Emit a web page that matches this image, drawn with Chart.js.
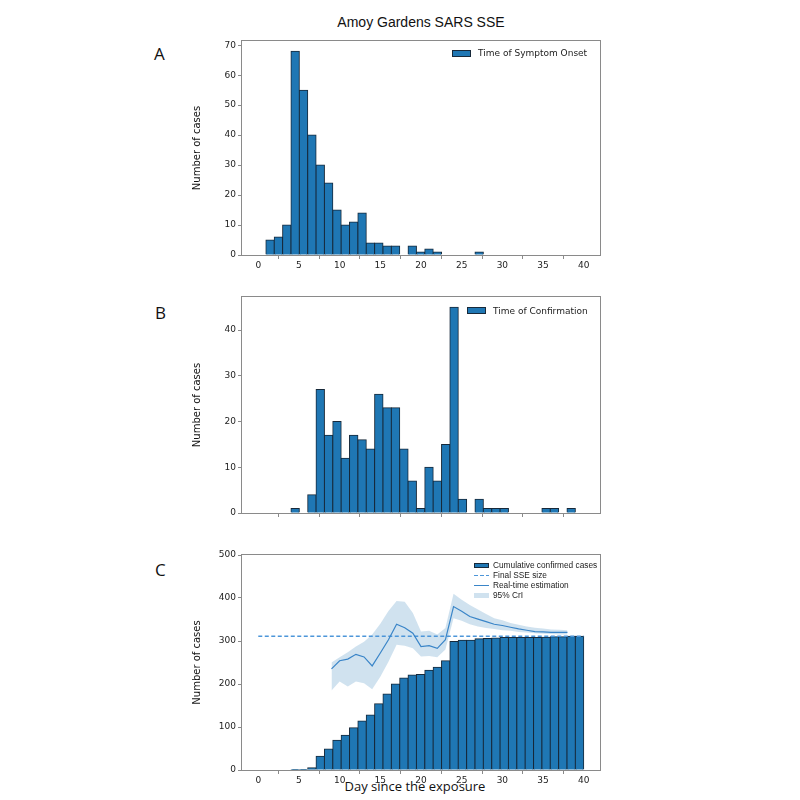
<!DOCTYPE html>
<html><head><meta charset="utf-8">
<script src="https://cdn.jsdelivr.net/npm/chart.js@4/dist/chart.umd.min.js"></script>
<style>
body{margin:0;width:800px;height:800px;background:#fff;position:relative;overflow:hidden;}
canvas{position:absolute;}
.t{position:absolute;white-space:nowrap;color:#111;}
.m{position:absolute;box-sizing:border-box;}
</style></head><body>
<div class="t" style="left:0;width:842px;text-align:center;top:15px;font:14px/14px 'Liberation Sans';">Amoy Gardens SARS SSE</div>
<div class="t" style="left:154px;top:45px;font:17px/17px 'Open Sans';">A</div>
<div class="t" style="left:155px;top:304px;font:17px/17px 'Open Sans';">B</div>
<div class="t" style="left:155px;top:561px;font:17px/17px 'Open Sans';">C</div>
<div class="t" style="left:0;width:830px;text-align:center;top:780px;font:13px/13px 'Open Sans';">Day since the exposure</div>
<canvas id="cA" width="450" height="245" style="left:160px;top:30px"></canvas>
<canvas id="cB" width="450" height="247" style="left:160px;top:286px"></canvas>
<canvas id="cC" width="450" height="246" style="left:160px;top:544px"></canvas>
<script>
// ---- data ----
const dayTicks = [0, 5, 10, 15, 20, 25, 30, 35, 40];
const binWidth = 1.028;
const onsetBinStart = 0.936;
const onsetCounts = [5, 6, 10, 68, 55, 40, 30, 24, 15, 10, 11, 14, 4, 4, 3, 3, 0, 3, 1, 2, 1, 0, 0, 0, 0, 1];
const onsetYTicks = [0, 10, 20, 30, 40, 50, 60, 70];
const confirmBinStart = 4.02;
const confirmCounts = [1, 0, 4, 27, 17, 20, 12, 17, 16, 14, 26, 23, 23, 14, 7, 1, 10, 7, 15, 45, 3, 0, 3, 1, 1, 1, 0, 0, 0, 0, 1, 1, 0, 1];
const confirmYTicks = [0, 10, 20, 30, 40];
const cumulativeCounts = [1, 1, 5, 32, 49, 69, 81, 98, 114, 128, 154, 177, 200, 214, 221, 222, 232, 239, 254, 299, 302, 302, 305, 306, 307, 308, 308, 308, 308, 308, 309, 310, 310, 311, 311];
const cumulativeYTicks = [0, 100, 200, 300, 400, 500];
const finalSSE = 311;
const finalSSEDays = [0, 40];
const estDays = [9,10,11,12,13,14,15,16,17,18,19,20,21,22,23,24,25,26,27,28,29,30,31,32,33,34,35,36,37,38];
const estMedian = [235,254,258,269,263,242,272,303,339,331,318,287,289,283,303,380,369,357,351,345,339,336,332,328,325,322,321,320,320,320];
const estUpper  = [250,262,274,287,298,315,340,370,393,391,365,322,324,315,330,410,396,384,373,363,353,348,342,338,334,331,329,327,326,325];
const estLower  = [185,206,194,206,202,188,217,252,291,289,283,264,265,262,280,353,347,339,334,330,328,325,324,321,320,318,317,316,315,315];

// ---- styles ----
const BLUE = '#1f77b4', EDGE = '#17293a', AXIS = '#8a8a8a';
const LINE = '#3a85c8', DASH = '#4d96d9', BAND = 'rgba(31,119,180,0.21)';
const frame = {id:'frame', afterDraw(c){const {ctx, chartArea:a} = c; ctx.save(); ctx.strokeStyle = AXIS; ctx.lineWidth = 1;
  ctx.strokeRect(a.left - 0.5, a.top - 0.5, a.right - a.left + 1, a.bottom - a.top + 1); ctx.restore();}};

function opts(yMax, yTicks, showX){
  const grid = {display:true, drawOnChartArea:false, drawTicks:true, tickLength:4, color:AXIS};
  const tfont = {family:'DejaVu Sans', size:9};
  return {
    responsive:false, animation:false,
    layout:{padding:{left:28, top:11, right:10, bottom:0}},
    plugins:{legend:{display:false}, tooltip:{enabled:false}},
    scales:{
      x:{type:'linear', min:-2, max:42, offset:false,
        afterBuildTicks:s=>{s.ticks = dayTicks.map(v=>({value:v}));},
        afterFit:s=>{s.height = 20;},
        grid, border:{display:false},
        ticks:{padding:1, color:'#222', font:tfont, maxRotation:0, autoSkip:false, callback:v=> showX ? String(v) : ''}},
      y:{type:'linear', min:0, max:yMax,
        afterBuildTicks:s=>{s.ticks = yTicks.map(v=>({value:v}));},
        afterFit:s=>{s.width = 54;},
        grid, border:{display:false},
        ticks:{padding:2, color:'#222', font:tfont, autoSkip:false},
        title:{display:true, text:'Number of cases', color:'#111', font:{family:'DejaVu Sans', size:10}, padding:{top:3, bottom:3}}}
    }
  };
}
function barSet(start, counts, order){
  return {type:'bar', order, data:counts.map((c,i)=>({x:start + (i + 0.5) * binWidth, y:c})),
    backgroundColor:BLUE, borderColor:EDGE, borderWidth:1, borderSkipped:'start',
    barPercentage:1, categoryPercentage:1, inflateAmount:0.5};
}

new Chart(document.getElementById('cA'), {type:'bar', data:{datasets:[barSet(onsetBinStart, onsetCounts, 0)]},
  options:opts(71.4, onsetYTicks, true), plugins:[frame]});
new Chart(document.getElementById('cB'), {type:'bar', data:{datasets:[barSet(confirmBinStart, confirmCounts, 0)]},
  options:opts(47.25, confirmYTicks, false), plugins:[frame]});

const pts = (xs, ys) => xs.map((x,i)=>({x, y:ys[i]}));
new Chart(document.getElementById('cC'), {type:'bar', data:{datasets:[
  {type:'line', order:0, data:pts(estDays, estMedian), borderColor:LINE, borderWidth:1.2, pointRadius:0, fill:false, tension:0},
  {type:'line', order:2, data:pts(estDays, estUpper), borderColor:'rgba(0,0,0,0)', borderWidth:1, pointRadius:0, backgroundColor:BAND, fill:'+1', tension:0},
  {type:'line', order:2, data:pts(estDays, estLower), borderColor:'rgba(0,0,0,0)', borderWidth:1, pointRadius:0, fill:false, tension:0},
  {type:'line', order:1, data:pts(finalSSEDays, finalSSEDays.map(()=>finalSSE)), borderColor:DASH, borderWidth:1.3, borderDash:[4,2.5], pointRadius:0, fill:false},
  barSet(confirmBinStart, cumulativeCounts, 3)
]}, options:opts(500, cumulativeYTicks, true), plugins:[frame]});

// ---- legends ----
function mk(css){const d = document.createElement('div'); d.className = 'm'; Object.assign(d.style, css); document.body.appendChild(d); return d;}
function txt(x, yc, s, font, size){const d = document.createElement('div'); d.className = 't';
  d.style.left = x + 'px'; d.style.top = (yc - size) + 'px'; d.style.font = size + 'px/' + (2*size) + 'px ' + font; d.style.color = '#222';
  d.textContent = s; document.body.appendChild(d);}
// A
mk({left:'452px', top:'49.5px', width:'19px', height:'7px', background:BLUE, border:'1px solid '+EDGE});
txt(478, 53, 'Time of Symptom Onset', "'DejaVu Sans'", 9);
// B
mk({left:'467px', top:'307px', width:'19px', height:'7px', background:BLUE, border:'1px solid '+EDGE});
txt(493, 310.5, 'Time of Confirmation', "'DejaVu Sans'", 9);
// C
mk({left:'474px', top:'562.5px', width:'15px', height:'5px', background:BLUE, border:'1px solid '+EDGE});
txt(493, 565, 'Cumulative confirmed cases', "'Liberation Sans'", 8.3);
mk({left:'474px', top:'574.5px', width:'15px', height:'1.3px', background:'repeating-linear-gradient(90deg,'+DASH+' 0 4px,transparent 4px 6px)'});
txt(493, 575, 'Final SSE size', "'Liberation Sans'", 8.3);
mk({left:'474px', top:'584.5px', width:'15px', height:'1.2px', background:LINE});
txt(493, 585, 'Real-time estimation', "'Liberation Sans'", 8.3);
mk({left:'474px', top:'592.5px', width:'15px', height:'5px', background:BAND});
txt(493, 595, '95% CrI', "'Liberation Sans'", 8.3);
</script>
</body></html>
